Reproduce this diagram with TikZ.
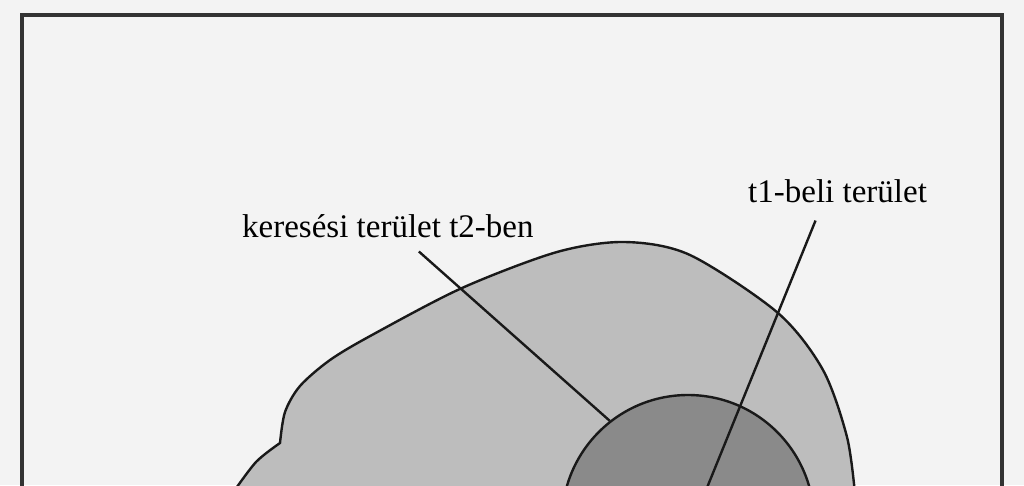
\documentclass[tikz,border=0pt]{standalone}
\usepackage{fontspec}
\setmainfont{Liberation Serif}
\usepackage{xcolor}

\definecolor{hatter}{HTML}{F3F3F3}
\definecolor{kulso}{HTML}{BDBDBD}
\definecolor{belso}{HTML}{8A8A8A}
\definecolor{keret}{HTML}{333333}

\begin{document}
\begin{tikzpicture}[x=1pt,y=-1pt,
    cimke/.style={font=\fontsize{33}{40}\selectfont,inner sep=0pt,anchor=base west},
    vonal/.style={line width=2.4pt,black!90}]
    \useasboundingbox (0,0) rectangle (1024,485);
    \clip (0,0) rectangle (1024,485);
    \fill[hatter] (0,0) rectangle (1024,485);

    % Frame (open at the bottom)
    \draw[keret,line width=3.2pt] (22,500) -- (22,15) -- (1002,15) -- (1002,500);

    % Search area in t2
    \draw[vonal,fill=kulso] plot[smooth] coordinates {(232,494) (256,462) (280,443)}
        -- plot[smooth] coordinates {(280,443) (285,412) (300,386) (330,360)
        (372,335) (462,288) (557,252) (625,242) (690,255) (778,313)
        (823,370) (847,437) (855,494)} -- cycle;

    % Area in t1
    \node[circle,draw,vonal,fill=belso,minimum size=252pt,inner sep=0pt] (t1kor) at (688,521) {};

    % Labels
    \node[cimke] (kereses) at (242,237) {keresési terület t2-ben};
    \node[cimke] (tbeli) at (748,202) {t1-beli terület};

    % Leader lines
    \coordinate (t1veg) at (702,500);
    \draw[vonal] ([xshift=31pt,yshift=-14pt]kereses.south) -- (t1kor.128);
    \draw[vonal] ([xshift=-22pt,yshift=-18pt]tbeli.south) -- (t1veg);
\end{tikzpicture}
\end{document}
